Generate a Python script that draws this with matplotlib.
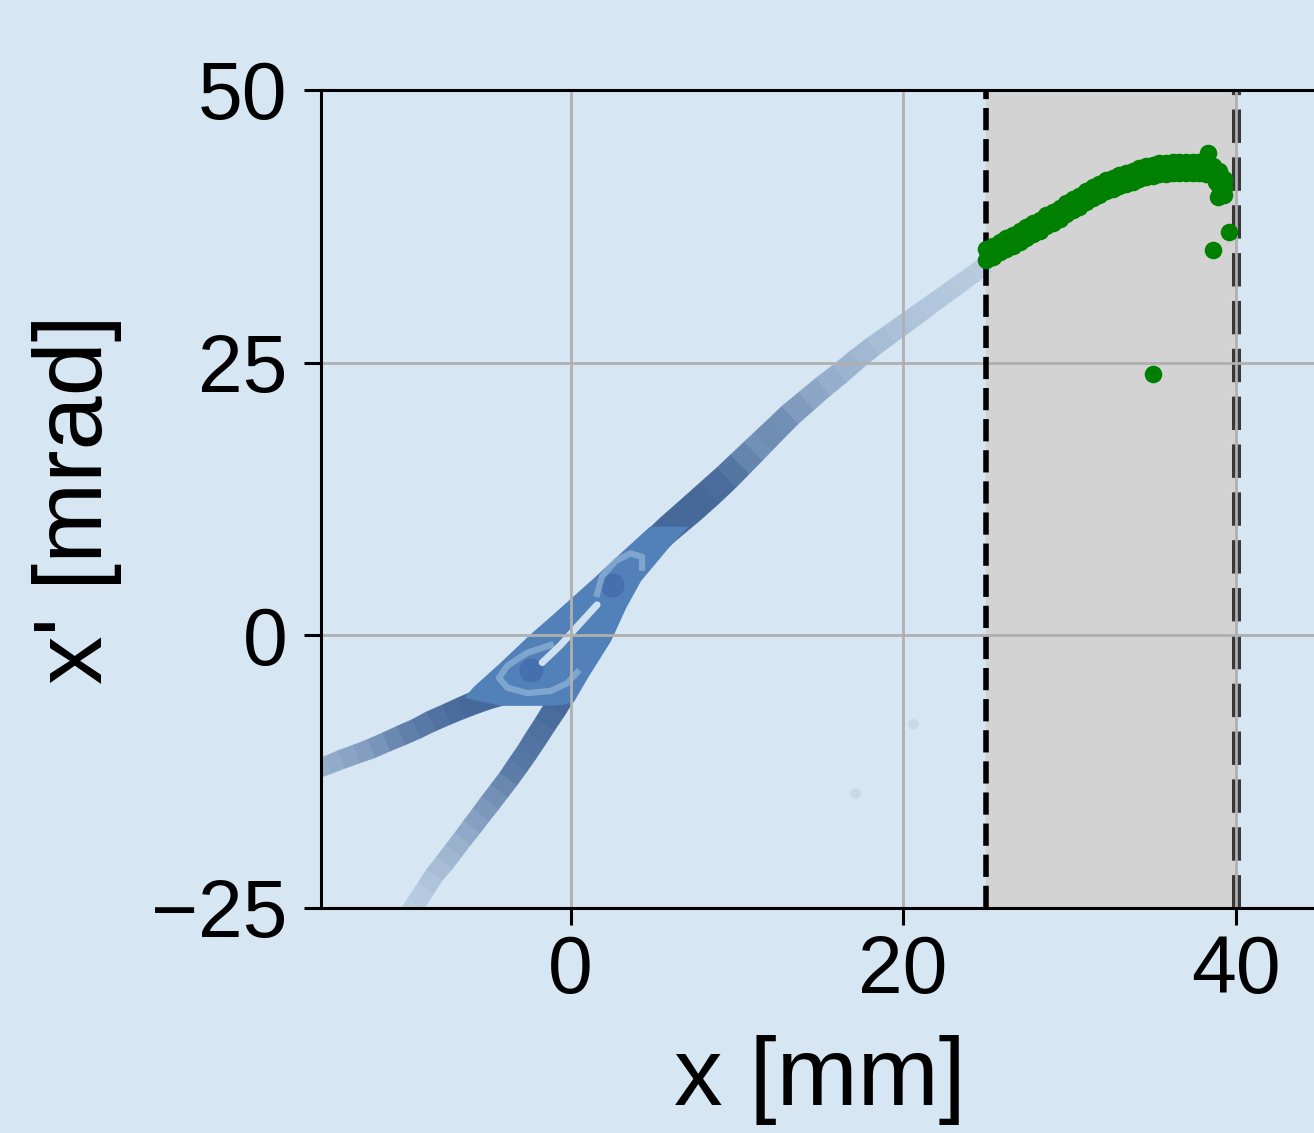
import numpy as np
import matplotlib.pyplot as plt
from matplotlib.collections import PolyCollection
from matplotlib.patches import Polygon
from matplotlib.transforms import IdentityTransform
from matplotlib.colors import to_rgb

plt.rcParams['font.family'] = ['Liberation Sans', 'DejaVu Sans']

BG = '#d6e6f3'
DARK = '#46699a'

# beam arms: centre line, darkness (0..1) and width in points
up_x = [4.7, 6.0, 7.3, 8.4, 9.4, 10.2, 11.0, 11.6, 12.2, 13.2, 14.2, 15.2, 16.2, 17.2, 18.2, 19.2, 20.2, 21.2, 22.2, 23.2, 24.2, 25.0]
up_y = [8.1, 9.9, 11.6, 13.1, 14.5, 15.7, 16.9, 17.8, 18.7, 20.2, 21.5, 22.8, 24.0, 25.3, 26.5, 27.6, 28.7, 29.8, 30.9, 32.0, 33.1, 34.0]
up_k = [1.0, 1.0, 1.0, 1.0, 0.95, 0.85, 0.7, 0.68, 0.75, 0.65, 0.55, 0.48, 0.42, 0.38, 0.35, 0.31, 0.28, 0.27, 0.25, 0.24, 0.22, 0.2]
up_w = [18.5, 19.5, 20, 20, 19.5, 19, 18.5, 18, 17.5, 17, 16.5, 16, 15.5, 15, 14.5, 14, 14, 13.5, 13, 13, 12.5, 12.5]

ll_x = [-4.0, -5.0, -5.8, -6.6, -7.5, -8.4, -9.3, -10.2, -11.1, -12.0, -12.9, -13.8, -14.6, -15.5]
ll_y = [-5.2, -5.7, -6.2, -6.7, -7.3, -7.9, -8.6, -9.2, -9.8, -10.4, -10.9, -11.4, -11.9, -12.4]
ll_k = [1.0, 1.0, 1.0, 1.0, 0.95, 0.9, 0.85, 0.8, 0.7, 0.6, 0.55, 0.5, 0.45, 0.45]
ll_w = [18, 17, 16, 15.5, 15, 15, 14.5, 14.5, 14, 14, 13.5, 13.5, 13, 13]

lo_x = [-0.4, -1.0, -1.55, -2.1, -2.65, -3.2, -3.75, -4.3, -4.85, -5.4, -5.95, -6.5, -7.05, -7.6, -8.2, -8.7, -9.3, -9.6]
lo_y = [-5.4, -6.9, -8.2, -9.5, -10.8, -12.0, -13.2, -14.3, -15.4, -16.5, -17.6, -18.7, -19.8, -20.9, -22.0, -23.2, -24.6, -25.3]
lo_k = [1.0, 1.0, 0.95, 0.92, 0.9, 0.88, 0.8, 0.72, 0.65, 0.6, 0.52, 0.45, 0.4, 0.35, 0.3, 0.25, 0.2, 0.2]
lo_w = [17, 16.5, 16, 16, 15.5, 15.5, 15, 15, 15, 14.5, 14.5, 14, 14, 14, 13.5, 13.5, 13.5, 13.5]

# core outline
core_x = [7.0, 5.9, 4.2, 3.3, 2.4, 1.0, 0.2, -0.4, -1.4, -4.2, -6.3, -5.8, -4.2, -2.4, -0.9, 1.3, 3.5, 4.8]
core_y = [9.9, 8.1, 5.0, 2.5, -0.5, -3.9, -6.0, -6.3, -6.4, -6.4, -5.7, -4.8, -2.6, 0.0, 2.0, 5.0, 8.1, 9.9]

ring1_x = [-1.2, -2.6, -3.8, -4.3, -3.8, -2.6, -1.2, -0.2, 0.4]
ring1_y = [-0.9, -1.6, -2.8, -3.9, -4.8, -5.3, -5.1, -4.4, -3.4]
ring2_x = [1.6, 1.9, 2.7, 3.6, 4.3, 4.3]
ring2_y = [3.8, 5.4, 6.8, 7.5, 7.2, 6.2]
streak_x = [1.6, 0.4, -0.6, -1.7]
streak_y = [2.8, 0.8, -0.9, -2.5]
spot_x = [2.5, -2.4]
spot_y = [4.6, -3.2]
faint_x = [17.1, 20.6]
faint_y = [-14.5, -8.1]

# particles lost in the aperture
band_x = [25.0, 25.4, 25.8, 26.2, 26.6, 27.0, 27.4, 27.8, 28.2, 28.6, 29.0, 29.4, 29.8, 30.2, 30.6, 31.0, 31.4,
          31.8, 32.2, 32.6, 33.0, 33.4, 33.8, 34.2, 34.6, 35.0, 35.4, 35.8, 36.2, 36.6, 37.0, 37.4, 37.8, 38.2]
band_top = [35.4, 35.7, 36.1, 36.4, 36.7, 37.1, 37.4, 37.8, 38.1, 38.5, 38.8, 39.2, 39.6, 40.0, 40.3, 40.7, 41.1,
            41.4, 41.7, 41.9, 42.2, 42.4, 42.6, 42.8, 43.0, 43.1, 43.3, 43.3, 43.4, 43.4, 43.4, 43.4, 43.4, 43.3]
band_bot = [34.4, 34.7, 35.1, 35.4, 35.7, 36.1, 36.4, 36.8, 37.1, 37.5, 37.8, 38.2, 38.6, 39.0, 39.3, 39.7, 40.1,
            40.4, 40.7, 40.9, 41.2, 41.4, 41.6, 41.8, 42.0, 42.1, 42.3, 42.3, 42.4, 42.4, 42.4, 42.4, 42.4, 42.3]
stray_x = [38.3, 38.6, 39.0, 39.3, 39.3, 38.9, 39.3, 39.6, 38.6, 35.0, 38.8, 39.0]
stray_y = [44.2, 43.0, 42.6, 41.8, 41.0, 40.2, 40.4, 37.0, 35.3, 24.0, 41.6, 41.2]


def shade(k):
    return tuple(np.array(to_rgb(BG)) * (1 - k) + np.array(to_rgb(DARK)) * k)


def draw_arm(ax, xs, ys, ks, ws):
    # ribbon of quads built in pixel space so the width is in points
    p = ax.transData.transform(np.column_stack([xs, ys]))
    t = np.gradient(p, axis=0)
    t /= np.linalg.norm(t, axis=1)[:, None]
    n = np.column_stack([-t[:, 1], t[:, 0]])
    h = np.array(ws)[:, None] * fig.dpi / 72 / 2
    left, right = p + n * h, p - n * h
    quads = [[left[i], left[i + 1], right[i + 1], right[i]] for i in range(len(xs) - 1)]
    cols = [shade((ks[i] + ks[i + 1]) / 2) for i in range(len(ks) - 1)]
    pc = PolyCollection(quads, facecolors=cols, edgecolors=cols, linewidths=0.6,
                        transform=IdentityTransform(), zorder=1)
    ax.add_collection(pc, autolim=False)


fig = plt.figure(figsize=(13.14, 11.33), dpi=100, facecolor=BG)
ax = fig.add_axes([0.2443, 0.1986, 0.7595, 0.7220], facecolor=BG)
ax.set_xlim(-15, 45)
ax.set_ylim(-25, 50)

ax.axvspan(25, 40, color='lightgrey', zorder=0.5)

draw_arm(ax, ll_x, ll_y, ll_k, ll_w)
draw_arm(ax, lo_x, lo_y, lo_k, lo_w)
draw_arm(ax, up_x, up_y, up_k, up_w)
ax.add_patch(Polygon(np.column_stack([core_x, core_y]), closed=True,
                     facecolor='#5280b9', edgecolor='#5280b9', lw=1, zorder=1.2))
ax.scatter(spot_x, spot_y, s=300, color='#3d62a6', alpha=0.55, lw=0, zorder=1.3)
ax.plot(ring1_x, ring1_y, color='#9dbfdd', lw=4.5, alpha=0.6, zorder=1.4)
ax.plot(ring2_x, ring2_y, color='#9dbfdd', lw=4.5, alpha=0.6, zorder=1.4)
ax.plot(streak_x, streak_y, color='#cfe0ee', lw=5, solid_capstyle='round', zorder=1.5)
ax.scatter(faint_x, faint_y, s=60, color=shade(0.1), lw=0, zorder=1)

ax.axvline(40, color='#383838', ls='--', lw=6.5, zorder=2.2)
ax.set_axisbelow(False)
ax.grid(True, color='#b0b0b0', lw=2)
ax.axvline(25, color='black', lw=4, dashes=(4, 1.6), zorder=2.8)

ax.scatter(band_x, band_top, s=160, color='green', lw=0, zorder=3)
ax.scatter(band_x, band_bot, s=160, color='green', lw=0, zorder=3)
ax.scatter(stray_x, stray_y, s=160, color='green', lw=0, zorder=3)

ax.set_xticks([0, 20, 40])
ax.set_yticks([-25, 0, 25, 50])
ax.tick_params(labelsize=58, width=2.2, length=12)
ax.tick_params(axis='y', pad=12)
ax.tick_params(axis='x', pad=7)
for s in ax.spines.values():
    s.set_linewidth(2.2)
    s.set_zorder(4)

ax.set_xlabel('x [mm]', fontsize=70)
ax.set_ylabel("x' [mrad]", fontsize=70)
ax.xaxis.set_label_coords(0.5, -0.155)
ax.yaxis.set_label_coords(-0.199, 0.5)

fig.savefig('out.png', dpi=100, facecolor=BG)
